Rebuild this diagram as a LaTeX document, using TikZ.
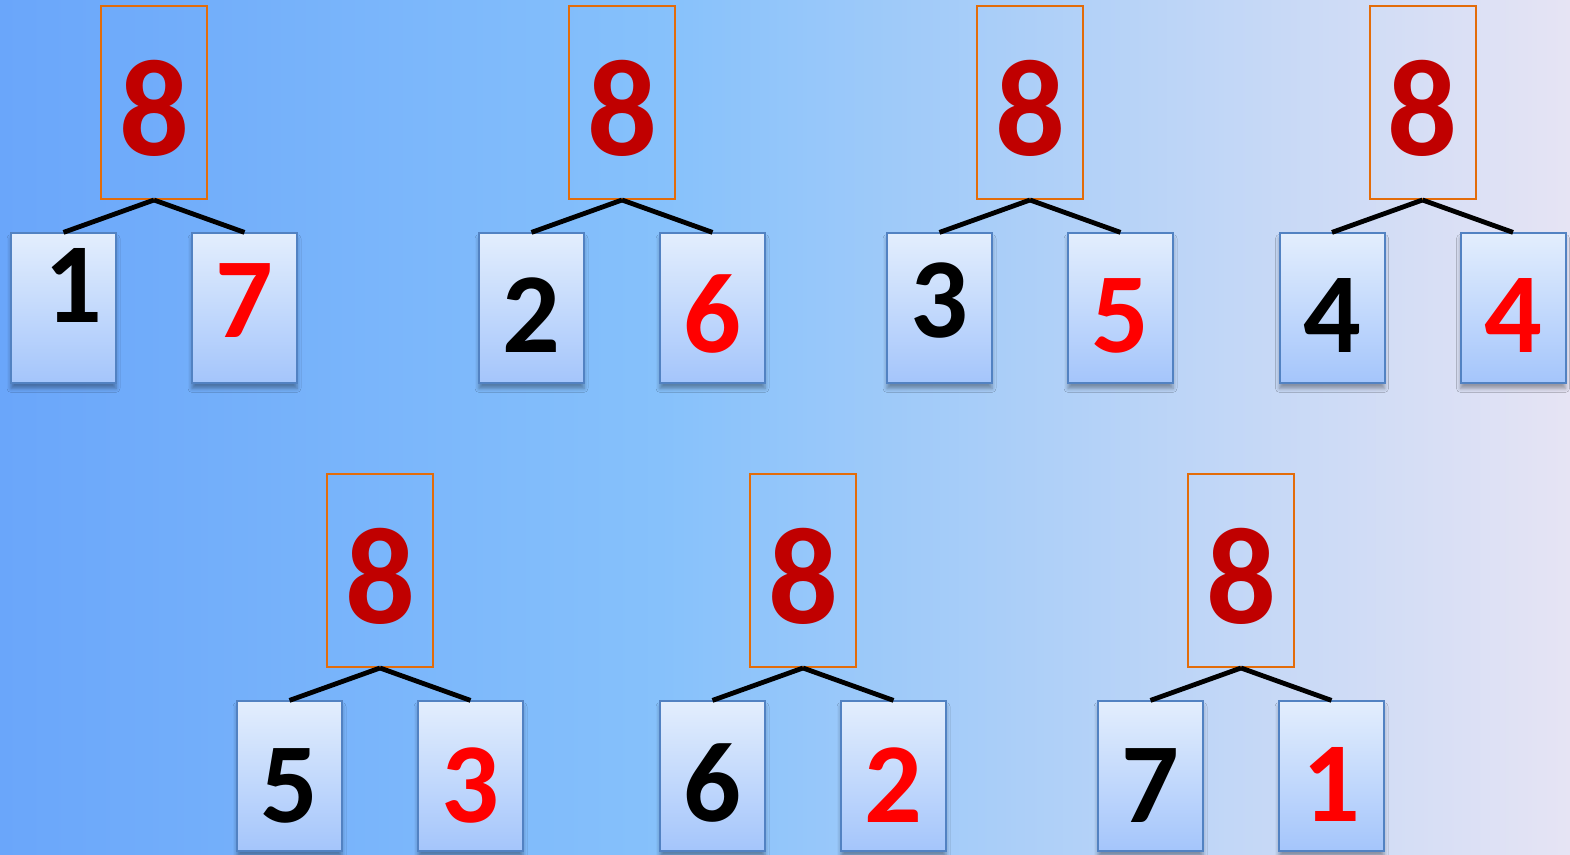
\documentclass[tikz,border=0pt]{standalone}
\usepackage{fontspec}
\setmainfont{Carlito}
\usepackage{tikz}
\usetikzlibrary{positioning,shadows.blur}
\definecolor{bgleft}{HTML}{6AA6FA}
\definecolor{bgmid}{HTML}{86C1FB}
\definecolor{bgright}{HTML}{E6E4F4}
\definecolor{boxtop}{HTML}{E3EEFD}
\definecolor{boxbot}{HTML}{A4C5FB}
\definecolor{boxline}{HTML}{5282C2}
\definecolor{wholeline}{HTML}{E36C09}
\definecolor{wholered}{HTML}{C00000}
\definecolor{partred}{HTML}{FF0000}
\pgfdeclarehorizontalshading{bgshade}{100bp}{color(0bp)=(bgleft); color(25bp)=(bgleft); color(46bp)=(bgmid); color(75bp)=(bgright); color(100bp)=(bgright)}
% digit with its baseline raised by #1 from the node centre
\newcommand{\dg}[2]{\raisebox{#1}[0pt][0pt]{#2}}

\begin{document}
\begin{tikzpicture}[
    x=0.5pt,y=-0.5pt,
    node distance=16.2pt,
    whole/.style={draw=wholeline,line width=1pt,minimum width=53pt,minimum height=96.5pt,inner sep=0pt,
        text height=0pt,text depth=0pt,
        text=wholered,font=\bfseries\fontsize{69}{72}\selectfont},
    part/.style={draw=boxline,line width=1pt,minimum width=52.5pt,minimum height=75pt,inner sep=0pt,
        text height=0pt,text depth=0pt,
        top color=boxtop,bottom color=boxbot,
        blur shadow={shadow xshift=0pt,shadow yshift=-2.5pt,shadow blur radius=2pt,shadow opacity=35},
        font=\bfseries\fontsize{57}{60}\selectfont},
    lpart/.style={part,below=of #1,xshift=-45.25pt,text=black},
    rpart/.style={part,below=of #1,xshift=45.25pt,text=partred},
    branch/.style={line width=2.4pt,black}
]
\useasboundingbox (0,0) rectangle (1570,855);
\shade[shading=bgshade] (0,0) rectangle (1570,855);

% top row
\node[whole] (p1) at (154,102.5) {\dg{-26.75pt}{8}};
\node[lpart=p1] (l1) {\dg{-7.25pt}{\hspace*{10pt}1}};
\node[rpart=p1] (r1) {\dg{-14.75pt}{7}};

\node[whole] (p2) at (622,102.5) {\dg{-26.75pt}{8}};
\node[lpart=p2] (l2) {\dg{-22.25pt}{2}};
\node[rpart=p2] (r2) {\dg{-22.25pt}{6}};

\node[whole] (p3) at (1030,102.5) {\dg{-26.75pt}{8}};
\node[lpart=p3] (l3) {\dg{-14.75pt}{3}};
\node[rpart=p3] (r3) {\dg{-22.25pt}{5}};

\node[whole] (p4) at (1422.5,102.5) {\dg{-26.75pt}{8}};
\node[lpart=p4] (l4) {\dg{-22.25pt}{4}};
\node[rpart=p4] (r4) {\dg{-22.25pt}{4}};

% bottom row
\node[whole] (p5) at (380,570.5) {\dg{-26.75pt}{8}};
\node[lpart=p5] (l5) {\dg{-23.25pt}{5}};
\node[rpart=p5] (r5) {\dg{-23.25pt}{3}};

\node[whole] (p6) at (803,570.5) {\dg{-26.75pt}{8}};
\node[lpart=p6] (l6) {\dg{-22.75pt}{6}};
\node[rpart=p6] (r6) {\dg{-23.25pt}{2}};

\node[whole] (p7) at (1241,570.5) {\dg{-26.75pt}{8}};
\node[lpart=p7] (l7) {\dg{-23.25pt}{7}};
\node[rpart=p7] (r7) {\dg{-22.75pt}{1}};

\foreach \t in {1,...,7}{
  \draw[branch] (p\t.south) -- (l\t.north);
  \draw[branch] (p\t.south) -- (r\t.north);
}
\end{tikzpicture}
\end{document}
